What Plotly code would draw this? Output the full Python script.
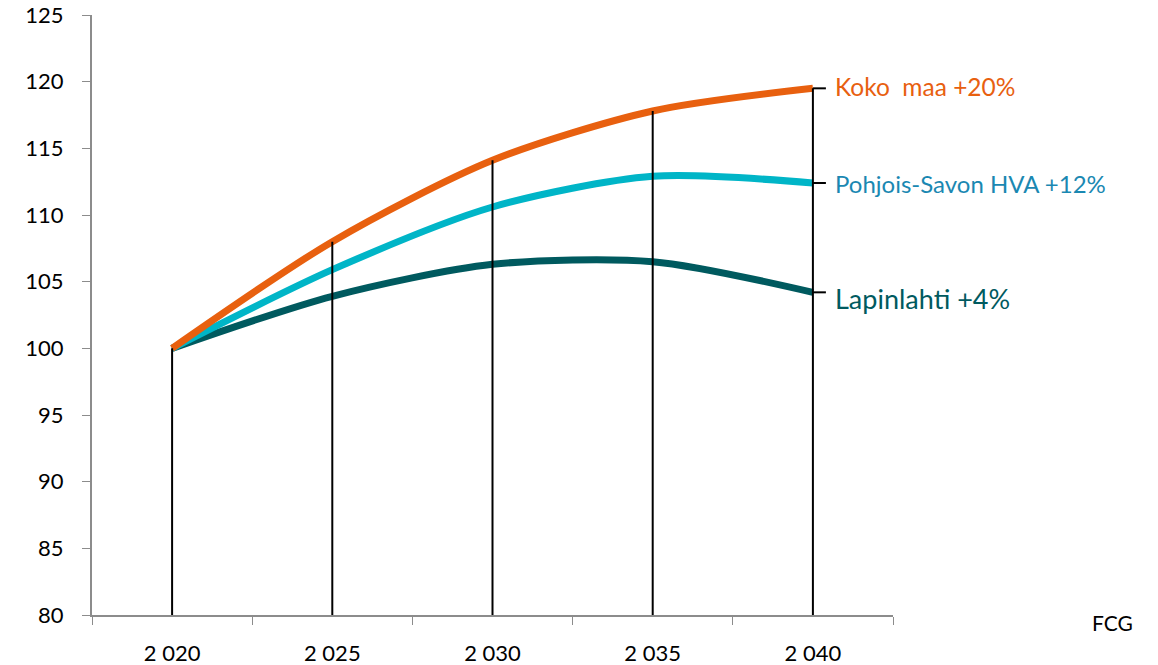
import plotly.graph_objects as go

years = ["2 020", "2 025", "2 030", "2 035", "2 040"]
koko_maa = [100, 108.0, 114.1, 117.8, 119.5]
pohjois_savo = [100, 105.9, 110.6, 112.9, 112.4]
lapinlahti = [100, 103.9, 106.3, 106.5, 104.2]

series = [
    ("Koko  maa +20%", koko_maa, "#E8600F", "#E8600F", 2, 24.5),
    ("Pohjois-Savon HVA +12%", pohjois_savo, "#00B5C7", "#1A88B2", 0, 24),
    ("Lapinlahti +4%", lapinlahti, "#005A5F", "#005A5F", -6, 27),
]
y_min = 80

W, H = 1158, 665
L, T, R, B = 92, 15, 265, 50

fig = go.Figure()
for name, vals, col, tcol, ys, fs in reversed(series):
    fig.add_trace(go.Scatter(x=years, y=vals, mode="lines",
                             line=dict(color=col, width=7, shape="spline", smoothing=0.8),
                             showlegend=False, hoverinfo="skip"))

# drop lines from highest value to axis
dx, dy = [], []
for i, yr in enumerate(years):
    top = max(s[1][i] for s in series)
    dx += [yr, yr, None]
    dy += [y_min, top, None]
fig.add_trace(go.Scatter(x=dx, y=dy, mode="lines", line=dict(color="black", width=2),
                         showlegend=False, hoverinfo="skip"))

for name, vals, col, tcol, ys, fs in series:
    last = vals[-1]
    fig.add_shape(type="line", xref="x", yref="y", xsizemode="pixel", xanchor=years[-1],
                  x0=0, x1=13, y0=last, y1=last, line=dict(color="black", width=2))
    fig.add_annotation(x=years[-1], y=last, xref="x", yref="y", text=name, showarrow=False,
                       xanchor="left", yanchor="middle", xshift=20, yshift=ys,
                       font=dict(family="Lato", size=fs, color=tcol))

pw = W - L - R
ph = H - T - B
fig.add_annotation(x=(1112 - L) / pw, y=-(622 - 615) / ph, xref="paper", yref="paper",
                   text="FCG", showarrow=False, xanchor="center", yanchor="middle",
                   font=dict(family="Lato", size=21, color="black"))

fig.update_layout(
    width=W, height=H,
    margin=dict(l=L, r=R, t=T, b=B, autoexpand=False),
    plot_bgcolor="white", paper_bgcolor="white",
    font=dict(family="Lato", size=20, color="black"),
    xaxis=dict(type="category", tickson="boundaries", ticks="outside", ticklen=8,
               tickcolor="#8C8C8C", showline=True, linecolor="#8C8C8C", linewidth=2,
               showgrid=False, zeroline=False, ticklabelstandoff=18, automargin=False,
               tickfont=dict(size=22), range=[-0.5, 4.5], ticklabeloverflow="allow"),
    yaxis=dict(range=[80, 125], dtick=5, ticks="outside", ticklen=8, tickcolor="#8C8C8C",
               showline=True, linecolor="#8C8C8C", linewidth=2, showgrid=False,
               zeroline=False, ticklabelstandoff=14, automargin=False, tickfont=dict(size=22),
               ticklabeloverflow="allow"),
)

fig.write_html("out.html", config={"displayModeBar": False},
               post_script="document.body.style.margin='0px';")
